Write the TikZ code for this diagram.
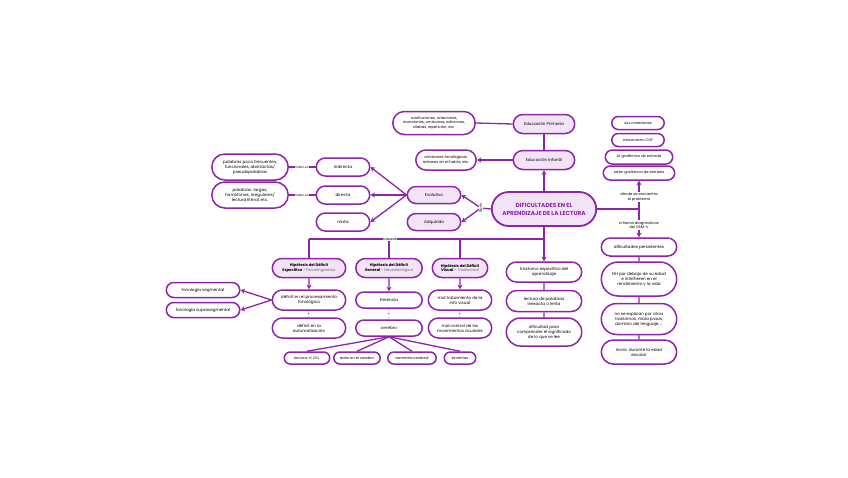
\documentclass[tikz,border=0pt]{standalone}
\usepackage{fontspec}
\setmainfont{Poppins}
\usetikzlibrary{shapes.misc,arrows.meta}
\definecolor{pc}{HTML}{8E24AA}
\definecolor{pl}{HTML}{F3E3F7}
\definecolor{tx}{HTML}{000000}
\tikzset{
 bx/.style={rounded rectangle, draw=pc, line width=1.5pt, fill=white, align=center, inner sep=0.3pt, font=\fontsize{4.1}{5}\selectfont, text=tx},
 lt/.style={bx, fill=pl},
 ln/.style={draw=pc, line width=1.3pt},
 ar/.style={ln, -{Stealth[length=4.5pt,width=5pt]}},
 lbl/.style={font=\fontsize{3.7}{4.5}\selectfont, inner sep=0.6pt, align=center, fill=white, text=tx},
}
\begin{document}
\begin{tikzpicture}[x=1pt,y=-1pt]
\useasboundingbox (0,0) rectangle (848,477);
% main
\node[lt, minimum width=105, minimum height=34, line width=1.8pt, font=\fontsize{5.8}{8}\selectfont\bfseries, text=pc] (main) at (544,209) {DIFICULTADES EN EL\\APRENDIZAJE DE LA LECTURA};
% top
\node[lt, minimum width=62, minimum height=19] (ep) at (544,124) {Educación Primaria};
\node[lt, minimum width=62, minimum height=19] (ei) at (544,160) {Educación Infantil};
\node[bx, minimum width=83, minimum height=23, font=\fontsize{3.7}{4.6}\selectfont] (sus) at (434,123) {sustituciones, rotaciones,\\inversiones, omisiones, adiciones,\\sílabas, repetición, etc.};
\node[bx, minimum width=61, minimum height=20, font=\fontsize{3.8}{4.8}\selectfont] (om) at (446,160) {omisiones fonológicas,\\retrasos en el habla, etc.};
\draw[ar] (main.north) -- (ei.south);
\draw[ln] (ei.north) -- (ep.south);
\draw[ln] (ep.west) -- (sus.east);
\draw[ar] (ei.west) -- (om.east);
% tipos
\node[lt, minimum width=54, minimum height=17] (evo) at (434,195) {Evolutivo};
\node[lt, minimum width=54, minimum height=17] (adq) at (434,222) {Adquirido};
\coordinate (tp) at (481,208);
\draw[ln] (main.west) -- (tp);
\draw[ar] (tp) -- (evo.east);
\draw[ar] (tp) -- (adq.east);
\node[lbl, rotate=90, font=\fontsize{3.6}{4.4}\selectfont] (tipos) at (tp) {tipos};
% evolutivo subtypes
\node[bx, minimum width=54, minimum height=18] (ind) at (343,167) {indirecta};
\node[bx, minimum width=54, minimum height=18] (dir) at (343,195) {directa};
\node[bx, minimum width=54, minimum height=18] (mix) at (343,222) {mixta};
\draw[ar] (evo.west) -- (ind.east);
\draw[ar] (evo.west) -- (dir.east);
\draw[ar] (evo.west) -- (mix.east);
\node[bx, minimum width=77, minimum height=26] (p1) at (250,167) {palabras poco frecuentes,\\funcionales, abstractas/\\pseudopalabras};
\node[bx, minimum width=77, minimum height=26] (p2) at (250,195) {palabras: largas,\\homófonas, irregulares/\\lectura literal, etc.};
\draw[ln] (ind.west) -- node[lbl, font=\fontsize{3}{3.5}\selectfont]{fallan en} (p1.east);
\draw[ln] (dir.west) -- node[lbl, font=\fontsize{3}{3.5}\selectfont]{fallan en} (p2.east);
% causas
\node[lt, minimum width=74, minimum height=19, font=\fontsize{3.8}{4.8}\selectfont] (h1) at (309,268) {\textbf{Hipótesis del Déficit}\\\textbf{Específico} - {\color{black!60}Psicolingüístico}};
\node[lt, minimum width=67, minimum height=19, font=\fontsize{3.8}{4.8}\selectfont] (h2) at (389,268) {\textbf{Hipótesis del Déficit}\\\textbf{General} - {\color{black!60}Neurobiológico}};
\node[lt, minimum width=56, minimum height=19, font=\fontsize{3.8}{4.8}\selectfont] (h3) at (460,268) {\textbf{Hipótesis del Déficit}\\\textbf{Visual} - {\color{black!60}Tradicional}};
\node[bx, minimum width=76, minimum height=20] (tr) at (544,272) {trastorno específico del\\aprendizaje};
\coordinate (cm) at (544,239);
\coordinate (c1) at (309,239);
\coordinate (c2) at (389,239);
\coordinate (c3) at (460,239);
\draw[ln] (c1) -- (cm);
\draw[ln] (c1) -- (h1.north);
\draw[ln] (c2) -- (h2.north);
\draw[ln] (c3) -- (h3.north);
\draw[ar] (main.south) -- (tr.north);
\node[lbl] (causas) at (390,239) {causas};
\node[bx, minimum width=76, minimum height=21] (lec) at (544,301) {lectura de palabras\\inexacta o lenta};
\node[bx, minimum width=76, minimum height=28] (dif) at (544,332) {dificultad para\\comprender el significado\\de lo que se lee};
\draw[ln] (tr) -- (lec);
\draw[ln] (lec) -- (dif);
% H1
\node[bx, minimum width=74, minimum height=20] (dp) at (309,300) {déficit en el procesamiento\\fonológico};
\node[bx, minimum width=74, minimum height=20] (da) at (309,328) {déficit en la\\automatización};
\draw[ar] (h1) -- (dp);
\draw[ln, line width=0.4pt] (dp) -- node[lbl]{+} (da);
\node[bx, minimum width=74, minimum height=15] (fs) at (203,290) {fonología segmental};
\node[bx, minimum width=74, minimum height=15] (fsp) at (203,310) {fonología suprasegmental};
\draw[ar] (dp.west) -- (fs.east);
\draw[ar] (dp.west) -- (fsp.east);
% H2
\node[bx, minimum width=67, minimum height=16] (her) at (389,300) {herencia};
\node[bx, minimum width=67, minimum height=16] (cer) at (389,328) {cerebro};
\draw[ar] (h2) -- (her);
\draw[ln, line width=0.4pt] (her) -- node[lbl]{+} (cer);
\node[bx, minimum width=46, minimum height=12, font=\fontsize{3.6}{4.4}\selectfont] (l1) at (307,358) {lectura: H. IZQ.};
\node[bx, minimum width=47, minimum height=12, font=\fontsize{3.6}{4.4}\selectfont] (l2) at (357,358) {daño en el cerebro};
\node[bx, minimum width=49, minimum height=12, font=\fontsize{3.6}{4.4}\selectfont] (l3) at (412,358) {asimetría cerebral};
\node[bx, minimum width=32, minimum height=12, font=\fontsize{3.6}{4.4}\selectfont] (l4) at (460,358) {simetrías};
\foreach \n in {l1,l2,l3,l4} \draw[ln] (cer.south) -- (\n.north);
% H3
\node[bx, minimum width=64, minimum height=20] (mt) at (460,300) {mal tratamiento de la\\info visual};
\node[bx, minimum width=64, minimum height=20] (mc) at (460,328) {mal control de los\\movimientos oculares};
\draw[ar] (h3) -- (mt);
\draw[ln, line width=0.4pt] (mt) -- node[lbl]{+} (mc);
% right column
\node[bx, minimum width=53, minimum height=13, font=\fontsize{3.6}{4.4}\selectfont] (r1) at (638,123) {sus conexiones};
\node[bx, minimum width=53, minimum height=13, font=\fontsize{3.6}{4.4}\selectfont] (r2) at (638,140) {mecanismo CGF};
\node[bx, minimum width=68, minimum height=14, font=\fontsize{3.6}{4.4}\selectfont] (r3) at (639,157) {AL grafémico de entrada};
\node[bx, minimum width=72, minimum height=14, font=\fontsize{3.6}{4.4}\selectfont] (r4) at (639,173) {retén grafémico de entrada};
\node[lbl] (dn) at (639,197) {dónde se encuentra\\el problema};
\node[lbl] (cd) at (639,225) {criterios diagnósticos\\del DSM-V};
\coordinate (rj) at (639,209);
\draw[ln] (main.east) -- (rj);
\draw[ln] (dn.south) -- (cd.north);
\draw[ar] (dn.north) -- (r4.south);
\node[bx, minimum width=76, minimum height=18] (dps) at (639,247) {dificultades persistentes};
\draw[ar] (cd.south) -- (dps.north);
\node[bx, minimum width=76, minimum height=34] (nh) at (639,279) {NH por debajo de su edad\\e interfieren en el\\rendimiento y la vida};
\node[bx, minimum width=76, minimum height=31] (ne) at (639,319) {no se explican por otros\\trastornos, mala praxis,\\dominio del lenguaje, ...};
\node[bx, minimum width=76, minimum height=24] (ini) at (639,352) {inicio: durante la edad\\escolar};
\draw[ln] (dps) -- (nh);
\draw[ln] (nh) -- (ne);
\draw[ln] (ne) -- (ini);
\end{tikzpicture}
\end{document}
